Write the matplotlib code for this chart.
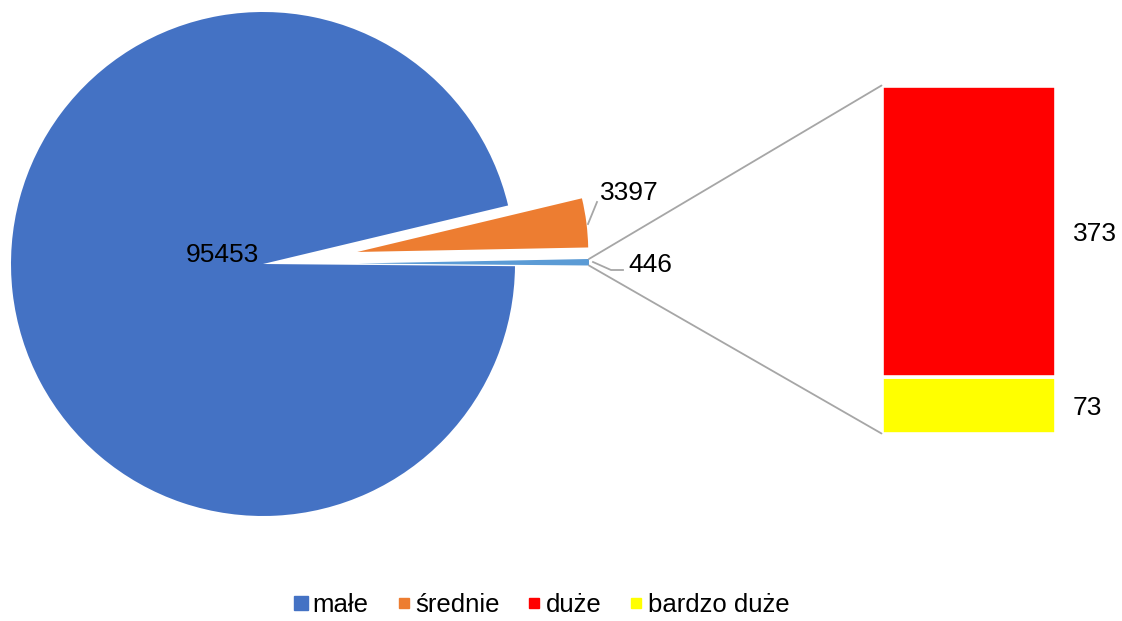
import matplotlib.pyplot as plt
from matplotlib.lines import Line2D
from matplotlib.patches import ConnectionPatch
import numpy as np

plt.rcParams['font.family'] = ['Liberation Sans', 'DejaVu Sans']

# pie: the "other" slice first, then średnie, then małe
pie_names = ['inne', 'średnie', 'małe']
pie_values = [446, 3397, 95453]
pie_colors = ['#5B9BD5', '#ED7D31', '#4472C4']

# bar split of the "other" slice (bottom to top)
bar_names = ['bardzo duże', 'duże']
bar_values = [73, 373]
bar_colors = ['#FFFF00', '#FF0000']

legend_names = ['małe', 'średnie', 'duże', 'bardzo duże']
legend_colors = ['#4472C4', '#ED7D31', '#FF0000', '#FFFF00']

W, H = 1122, 621
fig = plt.figure(figsize=(W / 100, H / 100), dpi=100)

# pie axes in pixel units
ax = fig.add_axes([0, 0, 1, 1])
R = 252
wedges, _ = ax.pie(pie_values, colors=pie_colors, startangle=-0.5,
                   radius=R, center=(263, 357), explode=[95, 95, 0],
                   wedgeprops=dict(linewidth=0))
for w in wedges[:2]:
    w.set_radius(231)
ax.set_xlim(0, W)
ax.set_ylim(0, H)
ax.axis('off')

fs = 19
ax.text(259, 359, str(pie_values[2]), ha='right', va='baseline', fontsize=fs)
ax.text(600, 420.5, str(pie_values[1]), ha='left', va='baseline', fontsize=fs)
ax.text(628, 349.5, str(pie_values[0]), ha='left', va='baseline', fontsize=fs)
grey = '#A6A6A6'
ax.plot([588, 597], [621 - 224, 621 - 202], color=grey, lw=1.3)
ax.plot([593, 611, 623], [621 - 262, 621 - 270, 621 - 270], color=grey, lw=1.3)

# stacked bar
axb = fig.add_axes([881.5 / W, 187.5 / H, 174 / W, 348 / H])
bottom = 0
for v, c in zip(bar_values, bar_colors):
    axb.bar(0, v, bottom=bottom, width=1.0, color=c, edgecolor='white', linewidth=2.6)
    axb.annotate(str(v), xy=(0.5, bottom + v / 2), xytext=(12.5, 0),
                 textcoords='offset points', ha='left', va='center_baseline',
                 fontsize=fs, annotation_clip=False)
    bottom += v
axb.set_xlim(-0.5, 0.5)
axb.set_ylim(0, sum(bar_values))
axb.axis('off')

# connector lines from the "other" slice to the bar
w0 = wedges[0]
cx, cy = w0.center
for th, yb in [(w0.theta2, sum(bar_values)), (w0.theta1, 0)]:
    pt = (cx + w0.r * np.cos(np.radians(th)), cy + w0.r * np.sin(np.radians(th)))
    con = ConnectionPatch(xyA=pt, coordsA='data', axesA=ax,
                          xyB=(-0.5, yb), coordsB='data', axesB=axb,
                          color=grey, lw=1.3)
    fig.add_artist(con)

sizes = [10, 7.5, 7.5, 7.5]
handles = [Line2D([], [], marker='s', linestyle='none', markersize=s,
                  markerfacecolor=c, markeredgecolor=c)
           for c, s in zip(legend_colors, sizes)]
fig.legend(handles, legend_names, loc='center', ncol=4,
           bbox_to_anchor=(541.5 / W, 1 - 605 / H), frameon=False,
           fontsize=18.5, handlelength=0.6, handletextpad=0.15, columnspacing=1.05)

fig.savefig('out.png', dpi=100)
